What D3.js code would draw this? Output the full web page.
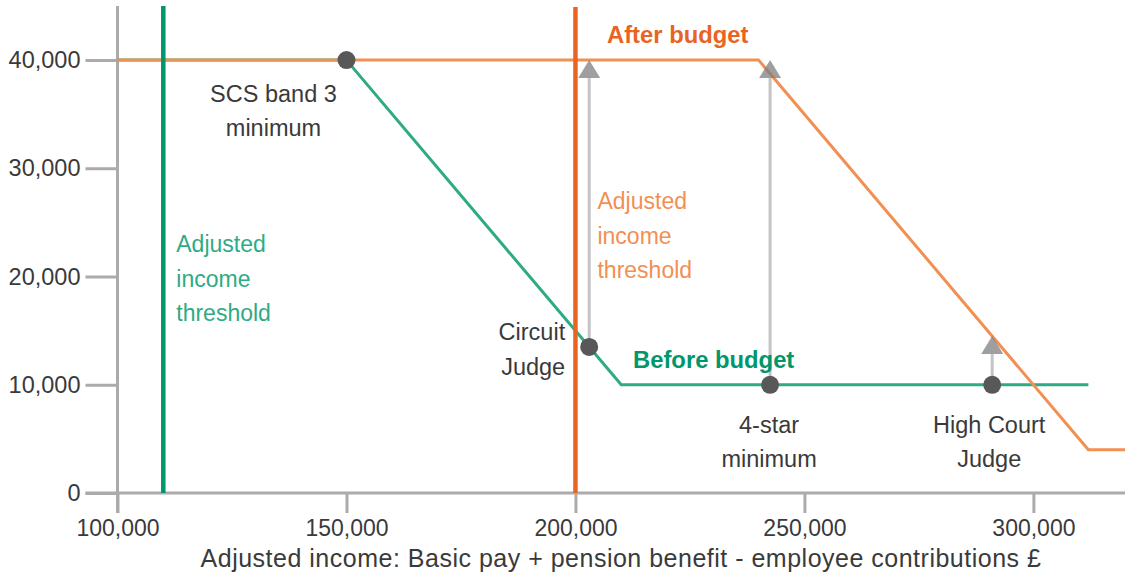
<!DOCTYPE html>
<html>
<head>
<meta charset="utf-8">
<script src="https://cdn.jsdelivr.net/npm/d3@7"></script>
<style>
  html, body { margin: 0; padding: 0; background: #fff; }
  svg { display: block; font-family: "Liberation Sans", Arial, Helvetica, sans-serif; }
</style>
</head>
<body>
<svg id="chart" width="1128" height="579"></svg>
<script>
// Annual allowance taper: adjusted income (£) vs. pension annual allowance (£)
const xTicks = [100000, 150000, 200000, 250000, 300000];
const yTicks = [0, 10000, 20000, 30000, 40000];

// "Before budget" allowance curve
const beforeIncome = [100000, 150000, 210000, 312000];
const beforeAllowance = [40000, 40000, 10000, 10000];

// "After budget" allowance curve
const afterIncome = [100000, 240000, 312000, 320000];
const afterAllowance = [40000, 40000, 4000, 4000];

// Adjusted income thresholds
const beforeThreshold = 110000;
const afterThreshold = 200000;

// Example roles
const roleNames = ["SCS band 3 minimum", "Circuit Judge", "4-star minimum", "High Court Judge"];
const roleIncome = [150000, 203000, 242500, 291000];
const roleBefore = [40000, 13500, 10000, 10000];
const roleAfter = [40000, 40000, 40000, 14500];

const svg = d3.select("#chart");

const x = d3.scaleLinear().domain([100000, 320000]).range([117.5, 1125]);
const y = d3.scaleLinear().domain([0, 45000]).range([493, 6]);

const axisGrey = "#ababab";
const textDark = "#3a3a3a";
const orange = "#e9651f";
const orangeLight = "#f28f52";
const green = "#00976c";
const greenLight = "#2fab84";

// Y axis
const yAxis = svg.append("g")
  .attr("transform", `translate(${x(100000)},0)`)
  .call(d3.axisLeft(y).tickValues(yTicks).tickSize(32).tickPadding(5).tickFormat(d3.format(",")));
yAxis.select(".domain").remove();
yAxis.selectAll(".tick line").attr("stroke", axisGrey).attr("stroke-width", 3);
yAxis.selectAll(".tick text").attr("fill", textDark).attr("font-size", 23.5)
  .attr("font-family", "Liberation Sans, Arial, sans-serif");

// X axis
const xAxis = svg.append("g")
  .attr("transform", `translate(0,${y(0)})`)
  .call(d3.axisBottom(x).tickValues(xTicks).tickSize(20).tickPadding(7).tickFormat(d3.format(",")));
xAxis.select(".domain").remove();
xAxis.selectAll(".tick line").attr("stroke", axisGrey).attr("stroke-width", 3);
xAxis.selectAll(".tick text").attr("fill", textDark).attr("font-size", 23)
  .attr("font-family", "Liberation Sans, Arial, sans-serif");

// Axis lines
svg.append("line")
  .attr("x1", x(100000)).attr("x2", x(100000))
  .attr("y1", y(45000)).attr("y2", y(0) + 20)
  .attr("stroke", axisGrey).attr("stroke-width", 3);
svg.append("line")
  .attr("x1", x(100000) - 32).attr("x2", x(320000))
  .attr("y1", y(0)).attr("y2", y(0))
  .attr("stroke", axisGrey).attr("stroke-width", 3);

// Axis title
svg.append("text")
  .attr("x", 621).attr("y", 567)
  .attr("text-anchor", "middle")
  .attr("font-size", 25).attr("letter-spacing", 0.5).attr("fill", textDark)
  .text("Adjusted income: Basic pay + pension benefit - employee contributions £");

const line = d3.line().x(d => x(d[0])).y(d => y(d[1]));

// Allowance curves
svg.append("path")
  .datum(d3.zip(beforeIncome, beforeAllowance))
  .attr("d", line).attr("fill", "none")
  .attr("stroke", greenLight).attr("stroke-width", 3).attr("stroke-linejoin", "round");
svg.append("path")
  .datum(d3.zip(afterIncome, afterAllowance))
  .attr("d", line).attr("fill", "none")
  .attr("stroke", orangeLight).attr("stroke-width", 3).attr("stroke-linejoin", "round");

// Threshold lines
svg.append("line")
  .attr("x1", x(beforeThreshold)).attr("x2", x(beforeThreshold))
  .attr("y1", y(45000)).attr("y2", y(0))
  .attr("stroke", green).attr("stroke-width", 4.5);
svg.append("line")
  .attr("x1", x(afterThreshold)).attr("x2", x(afterThreshold))
  .attr("y1", y(45000) + 1).attr("y2", y(0))
  .attr("stroke", orange).attr("stroke-width", 4.5);

// Change in allowance for each role: arrow from before to after
const roles = roleNames.map((name, i) => ({
  name, income: roleIncome[i], before: roleBefore[i], after: roleAfter[i]
}));
const triH = 18, triW = 22;
const arrows = svg.append("g");
roles.filter(d => d.after > d.before).forEach(d => {
  const cx = x(d.income);
  arrows.append("line")
    .attr("x1", cx).attr("x2", cx)
    .attr("y1", y(d.before)).attr("y2", y(d.after) + triH)
    .attr("stroke", "#c4c4c4").attr("stroke-width", 3);
  arrows.append("path")
    .attr("d", `M${cx},${y(d.after)} L${cx + triW / 2},${y(d.after) + triH} L${cx - triW / 2},${y(d.after) + triH} Z`)
    .attr("fill", "#7f7f7f").attr("fill-opacity", 0.75);
});

// Role markers
svg.append("g").selectAll("circle")
  .data(roles).join("circle")
  .attr("cx", d => x(d.income)).attr("cy", d => y(d.before))
  .attr("r", 9).attr("fill", "#585858");

// Role labels
function multiline(xp, yp, lines, anchor, color, size, weight, gap) {
  const t = svg.append("text")
    .attr("text-anchor", anchor).attr("fill", color)
    .attr("font-size", size).attr("font-weight", weight || "normal");
  lines.forEach((s, i) => t.append("tspan").attr("x", xp).attr("y", yp + i * gap).text(s));
  return t;
}
multiline(x(roleIncome[0]) - 73, y(roleBefore[0]) + 42, ["SCS band 3", "minimum"], "middle", textDark, 23.5, "normal", 34);
multiline(x(roleIncome[1]) - 24, y(roleBefore[1]) - 7, ["Circuit", "Judge"], "end", textDark, 23.5, "normal", 35);
multiline(x(roleIncome[2]) - 1, y(roleBefore[2]) + 48, ["4-star", "minimum"], "middle", textDark, 23.5, "normal", 34);
multiline(x(roleIncome[3]) - 3, y(roleBefore[3]) + 48, ["High Court", "Judge"], "middle", textDark, 23.5, "normal", 34);

// Curve and threshold labels
multiline(607, 43, ["After budget"], "start", orange, 23.8, "bold", 0);
multiline(633, 368, ["Before budget"], "start", green, 23.8, "bold", 0);
multiline(x(beforeThreshold) + 13, 252, ["Adjusted", "income", "threshold"], "start", greenLight, 23, "normal", 34.5);
multiline(x(afterThreshold) + 22, 209, ["Adjusted", "income", "threshold"], "start", orangeLight, 23, "normal", 34.5);
</script>
</body>
</html>
